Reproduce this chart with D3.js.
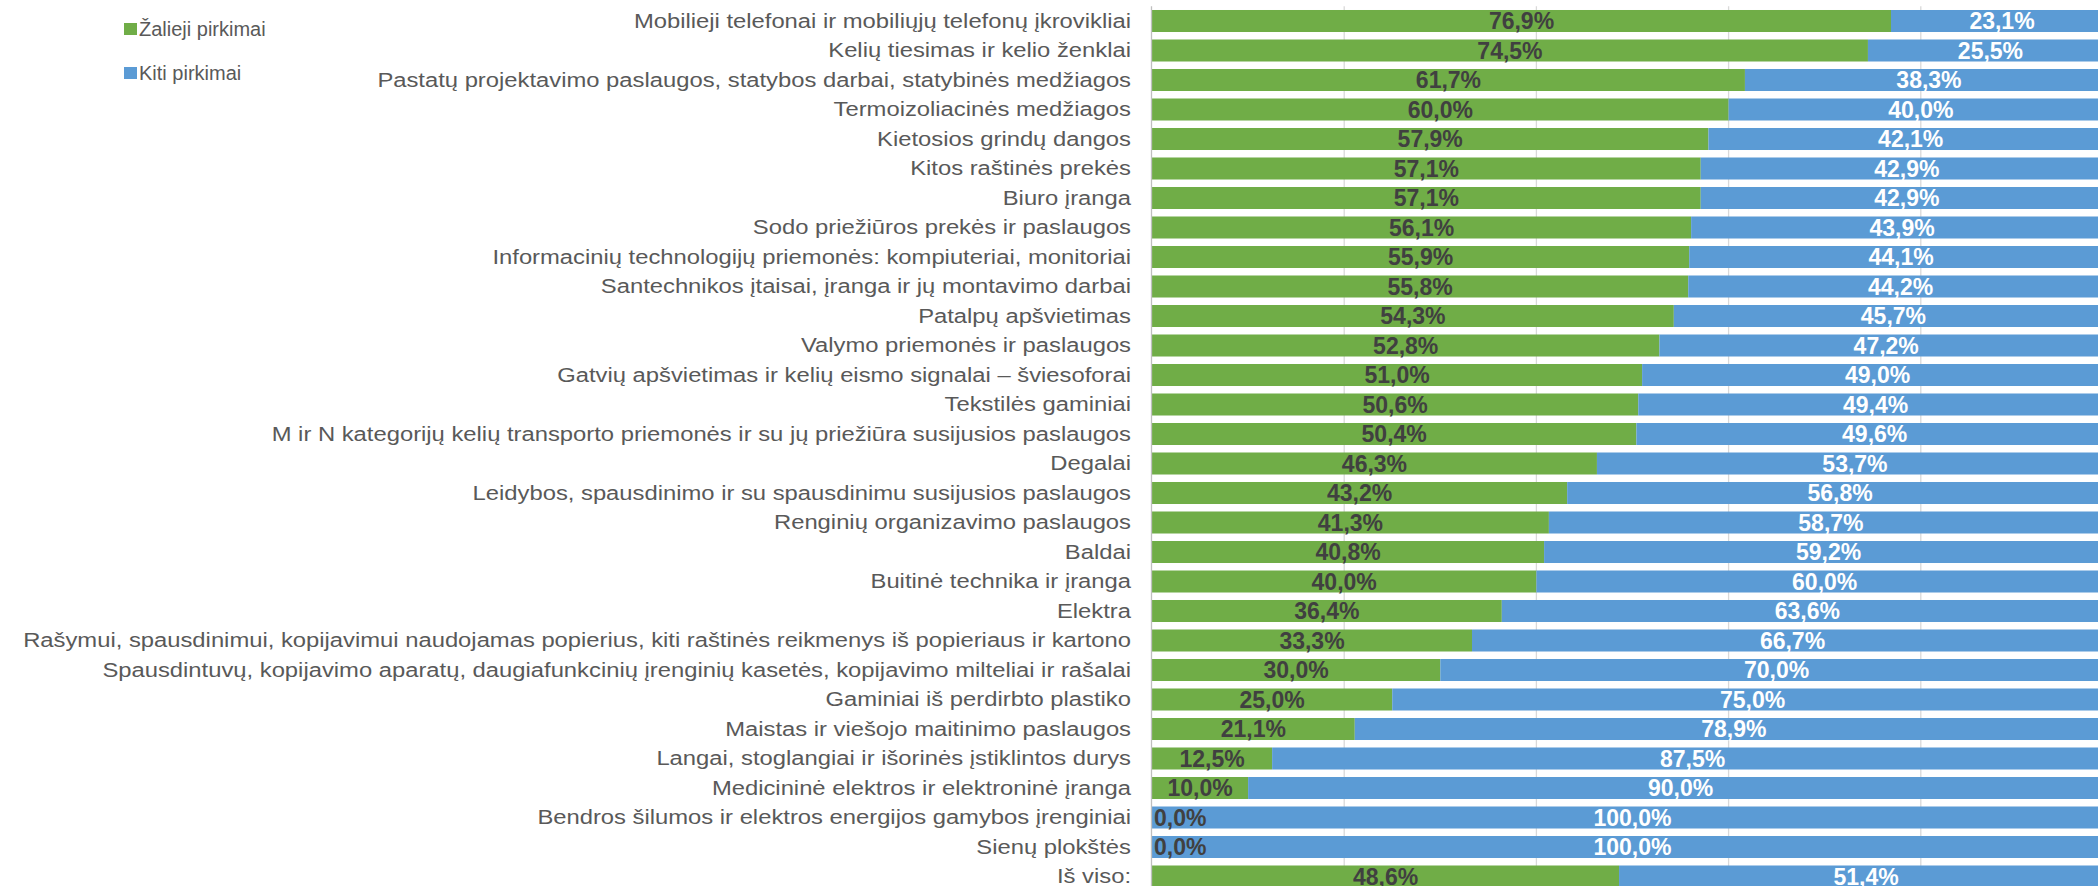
<!DOCTYPE html>
<html>
<head>
<meta charset="utf-8">
<script src="https://cdn.jsdelivr.net/npm/d3@7"></script>
<style>
  body { margin: 0; background: #fff; overflow: hidden; }
  text { font-family: "Liberation Sans", Arial, sans-serif; }
</style>
</head>
<body>
<script>
var width = 2098,
    height = 886;

// categories, top to bottom
var categories = [
    "Mobilieji telefonai ir mobiliųjų telefonų įkrovikliai",
    "Kelių tiesimas ir kelio ženklai",
    "Pastatų projektavimo paslaugos, statybos darbai, statybinės medžiagos",
    "Termoizoliacinės medžiagos",
    "Kietosios grindų dangos",
    "Kitos raštinės prekės",
    "Biuro įranga",
    "Sodo priežiūros prekės ir paslaugos",
    "Informacinių technologijų priemonės: kompiuteriai, monitoriai",
    "Santechnikos įtaisai, įranga ir jų montavimo darbai",
    "Patalpų apšvietimas",
    "Valymo priemonės ir paslaugos",
    "Gatvių apšvietimas ir kelių eismo signalai – šviesoforai",
    "Tekstilės gaminiai",
    "M ir N kategorijų kelių transporto priemonės ir su jų priežiūra susijusios paslaugos",
    "Degalai",
    "Leidybos, spausdinimo ir su spausdinimu susijusios paslaugos",
    "Renginių organizavimo paslaugos",
    "Baldai",
    "Buitinė technika ir įranga",
    "Elektra",
    "Rašymui, spausdinimui, kopijavimui naudojamas popierius, kiti raštinės reikmenys iš popieriaus ir kartono",
    "Spausdintuvų, kopijavimo aparatų, daugiafunkcinių įrenginių kasetės, kopijavimo milteliai ir rašalai",
    "Gaminiai iš perdirbto plastiko",
    "Maistas ir viešojo maitinimo paslaugos",
    "Langai, stoglangiai ir išorinės įstiklintos durys",
    "Medicininė elektros ir elektroninė įranga",
    "Bendros šilumos ir elektros energijos gamybos įrenginiai",
    "Sienų plokštės",
    "Iš viso:"
];

// Žalieji pirkimai (%)
var greenValues = [76.9, 74.5, 61.7, 60.0, 57.9, 57.1, 57.1, 56.1, 55.9, 55.8,
    54.3, 52.8, 51.0, 50.6, 50.4, 46.3, 43.2, 41.3, 40.8, 40.0,
    36.4, 33.3, 30.0, 25.0, 21.1, 12.5, 10.0, 0.0, 0.0, 48.6];

// Kiti pirkimai (%)
var otherValues = [23.1, 25.5, 38.3, 40.0, 42.1, 42.9, 42.9, 43.9, 44.1, 44.2,
    45.7, 47.2, 49.0, 49.4, 49.6, 53.7, 56.8, 58.7, 59.2, 60.0,
    63.6, 66.7, 70.0, 75.0, 78.9, 87.5, 90.0, 100.0, 100.0, 51.4];

var seriesNames = ["Žalieji pirkimai", "Kiti pirkimai"];
var seriesColors = ["#70AD47", "#5B9BD5"];
var gridTicks = [0.2, 0.4, 0.6, 0.8, 1.0];

var rows = categories.map(function (c, i) {
    return { name: c, green: greenValues[i] / 100, other: otherValues[i] / 100 };
});

var svg = d3.select("body")
    .append("svg")
    .attr("width", width)
    .attr("height", height);

// plot runs slightly past the right edge, like the original screenshot
var x = d3.scaleLinear()
    .domain([0, 1])
    .range([1152, 2113]);

var y = d3.scaleBand()
    .domain(categories)
    .range([6.25, 6.25 + categories.length * 29.5])
    .paddingInner(0.254)
    .paddingOuter(0.127);

var fmt = function (v) {
    return d3.format(".1f")(v * 100).replace(".", ",") + "%";
};

// gridlines
svg.append("g")
    .selectAll("line")
    .data(gridTicks)
    .enter().append("line")
    .attr("x1", function (d) { return x(d); })
    .attr("x2", function (d) { return x(d); })
    .attr("y1", y.range()[0])
    .attr("y2", height)
    .style("stroke", "#d9d9d9")
    .style("stroke-width", 1.3);

// stacked bars
var stack = d3.stack().keys(["green", "other"]);
var layers = stack(rows);

svg.append("g")
    .selectAll("g")
    .data(layers)
    .enter().append("g")
    .attr("fill", function (d, i) { return seriesColors[i]; })
    .selectAll("rect")
    .data(function (d) { return d; })
    .enter().append("rect")
    .attr("x", function (d) { return x(d[0]); })
    .attr("width", function (d) { return x(d[1]) - x(d[0]); })
    .attr("y", function (d) { return y(d.data.name); })
    .attr("height", y.bandwidth());

// category axis
var yAxis = svg.append("g")
    .attr("transform", "translate(" + x(0) + ",0)")
    .call(d3.axisLeft(y).tickSize(0).tickPadding(21));

yAxis.select(".domain")
    .attr("d", "M-0.5," + y.range()[0] + "V" + height)
    .style("stroke", "#bfbfbf")
    .style("stroke-width", 1.3);

// the source labels are a bit wider than plain Arial, stretch them sideways
yAxis.selectAll("text")
    .attr("x", 0)
    .attr("dy", "0.34em")
    .attr("transform", "translate(-21,0) scale(1.19,1)")
    .style("font-size", "20px")
    .style("font-family", "'Liberation Sans', Arial, sans-serif")
    .style("fill", "#595959");

// value labels
var labels = svg.append("g")
    .style("font-size", "23px")
    .style("font-weight", "bold");

layers.forEach(function (layer, i) {
    labels.selectAll(null)
        .data(layer)
        .enter().append("text")
        .attr("x", function (d) { return (x(d[0]) + x(d[1])) / 2; })
        .attr("y", function (d) { return y(d.data.name) + y.bandwidth() / 2; })
        .attr("dy", "0.36em")
        .attr("text-anchor", "middle")
        .style("fill", i === 0 ? "#404040" : "#ffffff")
        .text(function (d) { return fmt(d[1] - d[0]); })
        .each(function (d) {
            // zero-width segments: keep label inside the plot
            var w = this.getComputedTextLength();
            var cx = (x(d[0]) + x(d[1])) / 2;
            if (cx - w / 2 < x(0) + 2) {
                d3.select(this).attr("x", x(0) + 2 + w / 2);
            }
        });
});

// legend
var legend = svg.append("g")
    .selectAll("g")
    .data(seriesNames)
    .enter().append("g")
    .attr("transform", function (d, i) { return "translate(124," + (23 + i * 44) + ")"; });

legend.append("rect")
    .attr("width", 13)
    .attr("height", 12)
    .attr("fill", function (d, i) { return seriesColors[i]; });

legend.append("text")
    .attr("x", 15)
    .attr("y", 13)
    .style("font-size", "20px")
    .style("fill", "#595959")
    .text(function (d) { return d; });
</script>
</body>
</html>
